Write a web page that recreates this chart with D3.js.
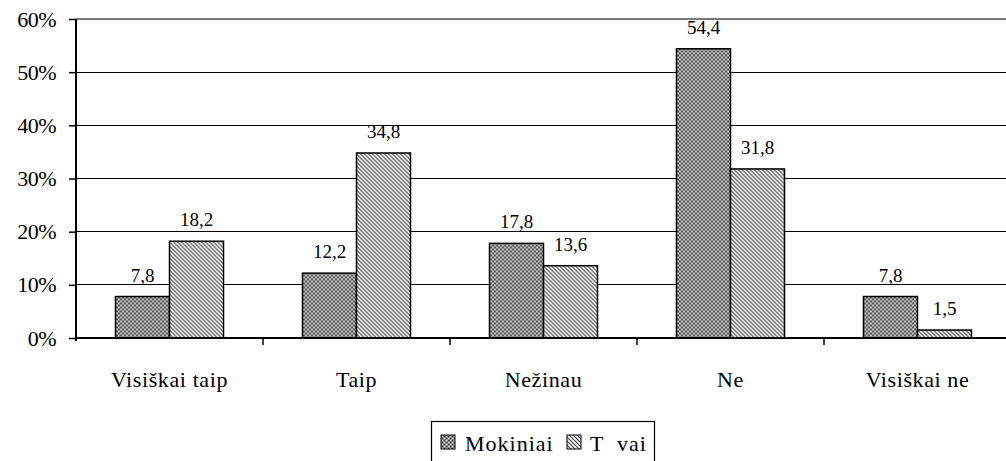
<!DOCTYPE html>
<html>
<head>
<meta charset="utf-8">
<script src="https://cdn.jsdelivr.net/npm/d3@7"></script>
<style>
  html, body { margin: 0; padding: 0; background: #fff; }
  svg { display: block; }
  svg text { font-family: 'Liberation Serif', Tinos, 'Times New Roman', Times, serif; fill: #000; }
</style>
</head>
<body>
<svg id="chart" width="1006" height="461"></svg>
<script>
// Response categories
const categories = ["Visiškai taip", "Taip", "Nežinau", "Ne", "Visiškai ne"];
// Series names
const seriesNames = ["Mokiniai", "T vai"];
// Percent values per series
const mokiniai = [7.8, 12.2, 17.8, 54.4, 7.8];
const tevai = [18.2, 34.8, 13.6, 31.8, 1.5];
// Y axis ticks
const yTicks = [0, 10, 20, 30, 40, 50, 60];

const series = [mokiniai, tevai];
const fmt = v => String(v).replace(".", ",");
const FONT = "'Liberation Serif', Tinos, 'Times New Roman', Times, serif";

const svg = d3.select("#chart");
const W = 1006;
const plot = { left: 76, right: 1011, top: 19, bottom: 338 };

// Fill patterns: fine checker for pupils, diagonal hatch for parents
const defs = svg.append("defs");
const dots = defs.append("pattern").attr("id", "pat-dots")
  .attr("width", 4).attr("height", 4).attr("patternUnits", "userSpaceOnUse");
dots.append("rect").attr("width", 4).attr("height", 4).attr("fill", "#8c8c8c");
[[1, 1, "#f4f4f4"], [3, 3, "#f4f4f4"], [3, 1, "#222"], [1, 3, "#222"]].forEach(([px, py, c]) =>
  dots.append("rect").attr("x", px).attr("y", py).attr("width", 1).attr("height", 1).attr("fill", c));
dots.selectAll("rect").attr("shape-rendering", "crispEdges");

const hatch = defs.append("pattern").attr("id", "pat-hatch")
  .attr("width", 4).attr("height", 4).attr("patternUnits", "userSpaceOnUse");
hatch.append("rect").attr("width", 4).attr("height", 4).attr("fill", "#fff");
hatch.append("path").attr("d", "M-1,-1L5,5M3,-1L5,1M-1,3L1,5")
  .attr("stroke", "#3a3a3a").attr("stroke-width", 1.1);

const fills = ["url(#pat-dots)", "url(#pat-hatch)"];

// Scales
const x = d3.scaleBand().domain(categories).range([plot.left, plot.right]).paddingInner(0).paddingOuter(0);
const groupW = 108;
const xs = d3.scaleBand().domain(d3.range(series.length)).range([0, groupW]);
const y = d3.scaleLinear().domain([0, 60]).range([plot.bottom, plot.top]);

// Gridlines
svg.append("g").selectAll("line").data(yTicks.filter(t => t > 0)).join("line")
  .attr("x1", plot.left).attr("x2", W)
  .attr("y1", d => y(d)).attr("y2", d => y(d))
  .attr("stroke", d => d === 60 ? "#7a7a7a" : "#000")
  .attr("stroke-width", d => d === 60 ? 1.6 : 1.2)
  .attr("shape-rendering", "crispEdges");

// Y axis
const yAxis = svg.append("g").attr("transform", `translate(${plot.left},0)`)
  .call(d3.axisLeft(y).tickValues(yTicks).tickSize(7).tickPadding(13).tickFormat(d => d + "%"));
yAxis.attr("font-family", null).attr("font-size", null);
yAxis.select(".domain").attr("d", `M0,${plot.top}V${plot.bottom + 3}`).attr("stroke-width", 2);
yAxis.selectAll(".tick line").attr("stroke-width", 1.5);
yAxis.selectAll("text").style("font-family", FONT).style("font-size", "22px")
  .attr("letter-spacing", "-0.5px").attr("fill", "#000");

// Bars
const groups = svg.append("g").selectAll("g").data(categories).join("g")
  .attr("transform", d => `translate(${x(d) + (x.bandwidth() - groupW) / 2},0)`);

groups.selectAll("rect").data((c, i) => series.map((s, k) => ({ k, v: s[i] }))).join("rect")
  .attr("x", d => xs(d.k))
  .attr("width", xs.bandwidth())
  .attr("y", d => y(d.v))
  .attr("height", d => y(0) - y(d.v))
  .attr("fill", d => fills[d.k])
  .attr("stroke", "#000").attr("stroke-width", 1.5);

// Value labels
groups.selectAll("text").data((c, i) => series.map((s, k) => ({ k, v: s[i] }))).join("text")
  .attr("x", d => xs(d.k) + xs.bandwidth() / 2)
  .attr("y", d => y(d.v) - 15)
  .attr("text-anchor", "middle")
  .style("font-family", FONT).style("font-size", "19px")
  .text(d => fmt(d.v));

// X axis
const xAxis = svg.append("g").attr("transform", `translate(0,${plot.bottom})`);
xAxis.append("line").attr("x1", plot.left).attr("x2", W).attr("y1", 0).attr("y2", 0)
  .attr("stroke", "#000").attr("stroke-width", 2);
xAxis.selectAll("line.tk").data(categories.slice(1)).join("line").attr("class", "tk")
  .attr("x1", d => x(d)).attr("x2", d => x(d)).attr("y1", 0).attr("y2", 7)
  .attr("stroke", "#000").attr("stroke-width", 1.5);
xAxis.selectAll("text").data(categories).join("text")
  .attr("x", d => x(d) + x.bandwidth() / 2)
  .attr("y", 49)
  .attr("text-anchor", "middle")
  .style("font-family", FONT).style("font-size", "22px").attr("letter-spacing", "0.6px")
  .text(d => d);

// Legend
const lg = svg.append("g").attr("transform", "translate(431,421)");
lg.append("rect").attr("x", 0.5).attr("y", 0.5).attr("width", 223).attr("height", 50)
  .attr("fill", "#fff").attr("stroke", "#000").attr("stroke-width", 1.2);
const items = [{ sx: 10, tx: 34 }, { sx: 136, tx: 159 }];
seriesNames.forEach((name, k) => {
  lg.append("rect").attr("x", items[k].sx).attr("y", 14).attr("width", 14).attr("height", 14)
    .attr("fill", fills[k]).attr("stroke", "#000").attr("stroke-width", 1);
  lg.append("text").attr("x", items[k].tx).attr("y", 30)
    .style("font-family", FONT).style("font-size", "22px").attr("letter-spacing", "1px")
    .style("white-space", "pre")
    .text(name === "T vai" ? "T  vai" : name);
});
</script>
</body>
</html>
